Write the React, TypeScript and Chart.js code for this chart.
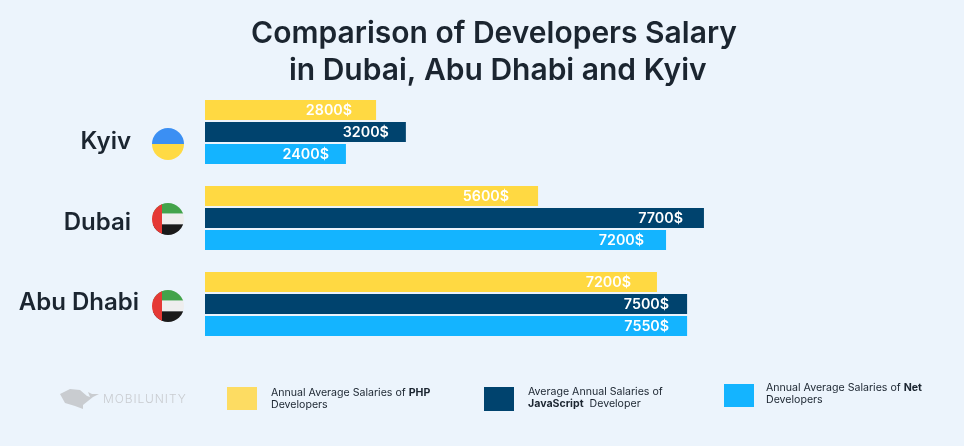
// @ts-nocheck
import {useEffect, useRef} from "react";
import {Chart, registerables} from 'chart.js';

Chart.register(...registerables);

const cities = ['Kyiv', 'Dubai', 'Abu Dhabi'];
const flags = ['ua', 'ae', 'ae'];
// bar lengths as measured in the picture (they don't quite follow the printed numbers)
const phpValues = [2640, 5140, 6975];
const jsValues = [3100, 7700, 7440];
const netValues = [2175, 7115, 7440];
// what is printed on the bars
const phpLabels = ['2800$', '5600$', '7200$'];
const jsLabels = ['3200$', '7700$', '7500$'];
const netLabels = ['2400$', '7200$', '7550$'];

const titleLines = ['Comparison of Developers Salary', ' in Dubai, Abu Dhabi and Kyiv'];

const YELLOW = '#ffd942';
const NAVY = '#00436e';
const SKY = '#14b4ff';
const INK = '#1b2530';
const FONT = 'Inter, "Noto Sans", sans-serif';

// label tweaks per bar, the source image isn't consistent here
const labelInset = [[24, 29, 26], [17, 21, 18], [17, 22, 18]];
const labelText = [phpLabels, jsLabels, netLabels];
const cityRight = [131, 131, 139];
const cityShift = [10, 5, -1];
const flagShift = [12, 1, 2];

const barLabels = {
    id: 'barLabels',
    afterDatasetsDraw(chart) {
        const ctx = chart.ctx;
        ctx.save();
        ctx.font = '600 14.3px ' + FONT;
        ctx.fillStyle = '#ffffff';
        ctx.textAlign = 'right';
        ctx.textBaseline = 'middle';
        chart.data.datasets.forEach((ds, d) => {
            chart.getDatasetMeta(d).data.forEach((bar, i) => {
                ctx.fillText(labelText[d][i], bar.x - labelInset[d][i], bar.y + 1);
            });
        });
        ctx.restore();
    },
};

function drawFlag(ctx, kind, cx, cy, r) {
    ctx.save();
    ctx.beginPath();
    ctx.arc(cx, cy, r, 0, Math.PI * 2);
    ctx.clip();
    if (kind === 'ua') {
        ctx.fillStyle = '#3b8ff3';
        ctx.fillRect(cx - r, cy - r, r * 2, r);
        ctx.fillStyle = '#ffda44';
        ctx.fillRect(cx - r, cy, r * 2, r);
    } else {
        const third = (r * 2) / 3;
        ctx.fillStyle = '#43a34a';
        ctx.fillRect(cx - r, cy - r, r * 2, third);
        ctx.fillStyle = '#eeeeee';
        ctx.fillRect(cx - r, cy - r + third, r * 2, third);
        ctx.fillStyle = '#1a1a1a';
        ctx.fillRect(cx - r, cy - r + third * 2, r * 2, third);
        ctx.fillStyle = '#e53935';
        ctx.fillRect(cx - r, cy - r, 10, r * 2);
    }
    ctx.restore();
}

const cityLabels = {
    id: 'cityLabels',
    afterDraw(chart) {
        const ctx = chart.ctx;
        const y = chart.scales.y;
        ctx.save();
        ctx.font = '600 24px ' + FONT;
        ctx.fillStyle = INK;
        ctx.textAlign = 'right';
        ctx.textBaseline = 'middle';
        cities.forEach((city, i) => {
            const cy = y.getPixelForValue(i);
            ctx.fillText(city, cityRight[i], cy + cityShift[i]);
            drawFlag(ctx, flags[i], 168, cy + flagShift[i], 16);
        });
        ctx.restore();
    },
};

const legendItems = [
    {color: '#fddc62', x: 227, y: 387, h: 23, textY: 387, textX: 271, lines: [['Annual Average Salaries of ', 'PHP'], ['Developers', '']]},
    {color: NAVY, x: 484, y: 387, h: 24, textY: 386, textX: 528, lines: [['Average Annual Salaries of', ''], ['', 'JavaScript', '  Developer']]},
    {color: SKY, x: 724, y: 384, h: 23, textY: 382, textX: 766, lines: [['Annual Average Salaries of ', 'Net'], ['Developers', '']]},
];

export default function App() {
    const chartRef = useRef(null);

    useEffect(() => {
        const chart = new Chart(chartRef.current, {
            type: 'bar',
            data: {
                labels: cities,
                datasets: [
                    {label: 'PHP', data: phpValues, backgroundColor: YELLOW},
                    {label: 'JavaScript', data: jsValues, backgroundColor: NAVY},
                    {label: 'Net', data: netValues, backgroundColor: SKY},
                ],
            },
            options: {
                indexAxis: 'y',
                animation: false,
                responsive: false,
                layout: {padding: {left: 205, right: 181, top: 0, bottom: 99}},
                datasets: {bar: {categoryPercentage: 66 / 86, barPercentage: 20 / 22}},
                scales: {
                    x: {display: false, min: 0, max: 8920, grid: {display: false}},
                    y: {display: false, grid: {display: false}},
                },
                plugins: {
                    legend: {display: false},
                    tooltip: {enabled: false},
                    title: {
                        display: true,
                        text: titleLines,
                        color: INK,
                        font: {family: FONT, size: 30, weight: '600', lineHeight: 37 / 30},
                        padding: {top: 15, bottom: 0},
                    },
                },
            },
            plugins: [barLabels, cityLabels],
        });

        return () => {
            chart.destroy();
        };
    }, []);

    return (
        <div style={{position: 'fixed', left: 0, top: 0, width: 964, height: 446, background: '#ecf4fc', overflow: 'hidden', fontFamily: FONT}}>
            <canvas ref={chartRef} width={964} height={446} style={{position: 'absolute', left: 0, top: 0}}/>
            <svg width={44} height={24} style={{position: 'absolute', left: 58, top: 387}}>
                <polygon points="2,7 12,2 22,3 29,9 32,10 30,5 34,7 41,7 35,10 25,18 25,22 17,19 7,16" fill="#c9ccd0"/>
            </svg>
            <div style={{position: 'absolute', left: 103, top: 391, fontSize: 12, fontWeight: 300, letterSpacing: 0.9, color: '#c9ccd0', lineHeight: '16px'}}>MOBILUNITY</div>
            {legendItems.map((item) => (
                <div key={item.x}>
                    <div style={{position: 'absolute', left: item.x, top: item.y, width: 30, height: item.h, background: item.color}}/>
                    <div style={{position: 'absolute', left: item.textX, top: item.textY, fontSize: 10.6, lineHeight: '12px', color: INK, whiteSpace: 'pre'}}>
                        {item.lines.map((line, i) => (
                            <div key={i}>
                                {line[0]}<b>{line[1]}</b>{line[2]}
                            </div>
                        ))}
                    </div>
                </div>
            ))}
        </div>
    );
}
